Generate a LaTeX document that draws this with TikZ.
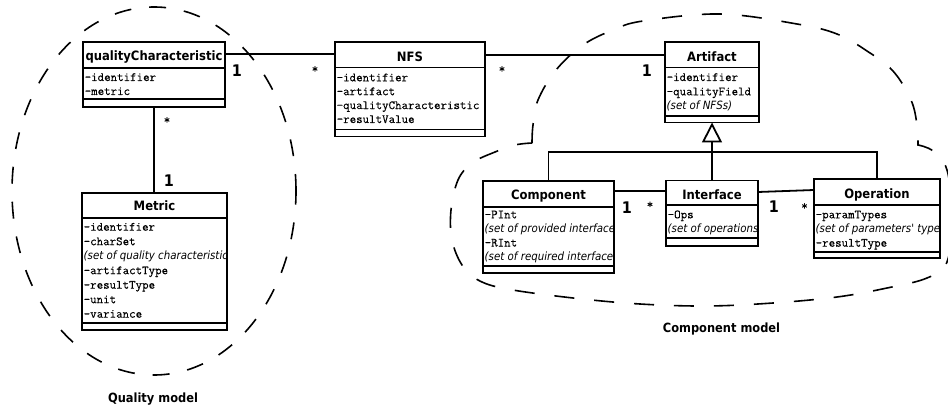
\documentclass[tikz,border=0pt]{standalone}
\usepackage{fontspec}
\newfontfamily\hdrfont{DejaVu Sans}[FakeStretch=0.9]
\newfontfamily\attrfont{Latin Modern Mono}[FakeBold=0.3]
\usetikzlibrary{arrows.meta}
\newcommand\ital[1]{{\hdrfont\itshape\fontsize{11.4}{13}\selectfont #1}}
\tikzset{
 classbox/.style={draw, line width=1.9pt, fill=white, inner sep=0pt, outer sep=0pt, rectangle},
 divline/.style={line width=1.9pt},
 classtitle/.style={font=\hdrfont\bfseries\fontsize{12.9}{14}\selectfont, inner sep=0pt},
 attrtext/.style={font=\attrfont\fontsize{12.6}{14}\selectfont, inner sep=0pt},
 conn/.style={line width=1.8pt},
 multone/.style={font=\hdrfont\bfseries\fontsize{16}{16}\selectfont, inner sep=0pt, anchor=base},
 multmany/.style={font=\attrfont\fontsize{12.6}{14}\selectfont, inner sep=0pt, anchor=center},
 modellabel/.style={font=\hdrfont\bfseries\fontsize{12.7}{14}\selectfont, inner sep=0pt, anchor=base},
 qdash/.style={line width=1.6pt, dash pattern=on 17pt off 18pt},
 cdash/.style={line width=1.6pt, dash pattern=on 20pt off 20pt},
}
% name, x1, x2, y1, yh, ya, y2, title, title baseline
\newcommand\umlclass[9]{%
  \node[classbox, minimum width={(#3-#2)*1pt}, minimum height={(#7-#4)*1pt}] (#1) at ({(#2+#3)/2},{(#4+#7)/2}) {};
  \draw[divline] (#2,#5) -- (#3,#5) (#2,#6) -- (#3,#6);
  \node[classtitle, anchor=base] (#1-title) at ({(#2+#3)/2},#9) {#8};
}
% name, x, first baseline, spacing, list
\newcommand\attrs[5]{%
  \begin{scope}
    \clip (#1.north west) rectangle (#1.south east);
    \foreach \t [count=\i from 0] in {#5}
      \node[attrtext, anchor=base west] (#1-a\i) at ({#2},{#3+\i*#4}) {\t};
  \end{scope}}
\begin{document}
\begin{tikzpicture}[x=1pt,y=-1pt]
\useasboundingbox[fill=white] (0,0) rectangle (948,409);

% dashed model outlines
\draw[qdash] (154,191) ellipse [x radius=142pt, y radius=184pt];
\draw[cdash] plot[smooth, tension=0.6] coordinates {(532,143) (533,125) (538,100) (556,70) (583,45) (613,30) (643,21) (720,14) (797,24) (837,34) (867,51) (893,71) (911,100) (917,125) (918,145)}
  -- plot[smooth, tension=0.6] coordinates {(918,145) (933,151) (947,170) (952,215) (947,262) (927,278) (887,288) (837,297) (773,303) (707,306) (640,304) (573,298) (507,289) (478,280) (462,265) (452,240) (451,210) (458,180) (472,163) (495,152) (515,145) (532,143)};

% classes
\umlclass{qc}{83}{225}{42}{68}{99}{107}{qualityCharacteristic}{61}
\attrs{qc}{84.5}{81}{14}{-identifier, -metric}

\umlclass{met}{82}{227}{193}{218}{323}{330}{Metric}{211}
\attrs{met}{83.5}{230.7}{14.5}{-identifier, -charSet, {\ital{(set of quality characteristics)}}, -artifactType, -resultType, -unit, -variance}

\umlclass{nfs}{335}{485}{42}{67.5}{129.5}{136.5}{NFS}{61.3}
\attrs{nfs}{336.5}{81.3}{13.9}{-identifier, -artifact, -qualityCharacteristic, -resultValue}

\umlclass{art}{665}{759}{42}{67.5}{115.7}{122.5}{Artifact}{61.3}
\attrs{art}{666.5}{81}{14.3}{-identifier, -qualityField, {\ital{(set of NFSs)}}}

\umlclass{comp}{483}{614}{181}{206.7}{265.7}{273.3}{Component}{199}
\attrs{comp}{484.5}{218.3}{14.1}{-PInt, {\ital{(set of provided interfaces)}}, -RInt, {\ital{(set of required interfaces)}}}

\umlclass{iface}{666}{758}{180.5}{205}{238.3}{245.7}{Interface}{199}
\attrs{iface}{667.5}{218.3}{14}{-Ops, {\ital{(set of operations)}}}

\umlclass{oper}{814}{940}{179}{205}{252.3}{258.3}{Operation}{198.5}
\attrs{oper}{815.5}{218.3}{14.2}{-paramTypes, {\ital{(set of parameters' types)}}, -resultType}

% associations
\draw[conn] ([yshift=-12pt]qc.north east) -- ([yshift=-12pt]nfs.north west);
\draw[conn] ([yshift=-13pt]nfs.north east) -- ([yshift=-13pt]art.north west);
\draw[conn] (qc.south) -- (qc.south |- met.north);
\draw[conn] ([yshift=-10pt]comp.north east) -- ([yshift=-10.5pt]iface.north west);
\draw[conn] ([yshift=-11.5pt]iface.north east) -- ([yshift=-11pt]oper.north west);

% generalization
\coordinate (gj) at (iface.north |- 0,152);
\draw[conn, -{Triangle[open, length=20pt, width=20pt]}] (iface.north) -- (iface.north |- art.south);
\draw[conn] (comp.north) |- (gj) -| (oper.north);

% multiplicities
\node[multone] (m1) at (237,77) {1};
\node[multmany] (m2) at (315,69.5) {*};
\node[multmany] (m3) at (502,69.5) {*};
\node[multone] (m4) at (647,77) {1};
\node[multmany] (m5) at (167,120.5) {*};
\node[multone] (m6) at (169,186) {1};
\node[multone] (m7) at (627,213) {1};
\node[multmany] (m8) at (650,205) {*};
\node[multone] (m9) at (774,212) {1};
\node[multmany] (m10) at (804.5,206.5) {*};

% model labels
\node[modellabel] (qlabel) at (153,402) {Quality model};
\node[modellabel] (clabel) at (721.5,332) {Component model};
\end{tikzpicture}
\end{document}
